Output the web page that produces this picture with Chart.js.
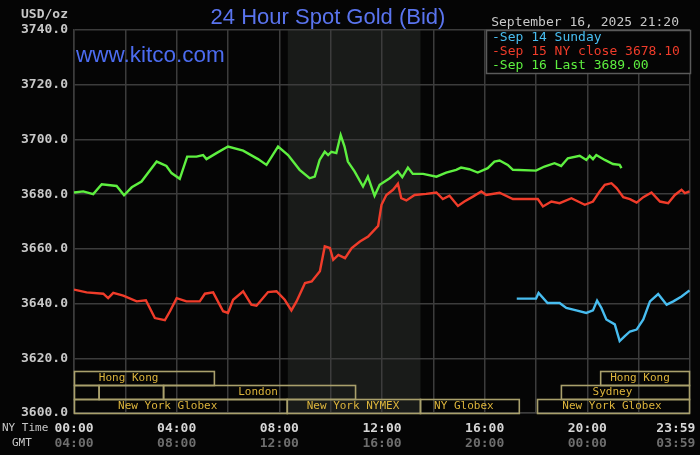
<!DOCTYPE html>
<html lang="en">
<head>
<meta charset="UTF-8" />
<title>24 Hour Spot Gold (Bid)</title>
<script src="https://cdn.jsdelivr.net/npm/chart.js"></script>
<style>
  html, body { margin: 0; padding: 0; background: #050505; }
  #wrap { width: 700px; height: 455px; }
</style>
</head>
<body>
<div id="wrap"><canvas id="goldChart"></canvas></div>
<script>
// hours are NY time (0 = midnight), prices in USD/oz
const sep16Hours = [
  0, 0.36, 0.75, 1.08, 1.66, 1.95, 2.25, 2.63, 3.22, 3.6,
  3.8, 4.12, 4.41, 4.77, 5.03, 5.16, 5.55, 6.0, 6.59, 7.17,
  7.5, 7.95, 8.34, 8.79, 9.18, 9.38, 9.57, 9.77, 9.9, 10.03,
  10.22, 10.39, 10.54, 10.67, 10.93, 11.26, 11.45, 11.71, 11.91, 12.3,
  12.62, 12.79, 13.01, 13.2, 13.6, 14.12, 14.5, 14.89, 15.08, 15.4,
  15.73, 16.12, 16.38, 16.58, 16.9, 17.1, 18.0, 18.33, 18.72, 18.98,
  19.24, 19.7, 19.96, 20.09, 20.22, 20.35, 20.68, 21.0, 21.26, 21.33
];
const sep16Prices = [
  3680.6, 3681.0, 3680.0, 3683.6, 3683.0, 3679.6, 3682.5, 3684.6, 3691.9, 3690.3,
  3687.7, 3685.6, 3693.7, 3693.7, 3694.3, 3692.8, 3695.0, 3697.4, 3695.9, 3692.8,
  3690.7, 3697.4, 3694.3, 3688.9, 3685.8, 3686.4, 3692.5, 3695.5, 3694.3, 3695.5,
  3695.0, 3701.6, 3697.4, 3691.9, 3688.3, 3682.8, 3686.4, 3679.4, 3683.4, 3685.8,
  3688.3, 3686.2, 3689.7, 3687.4, 3687.4, 3686.4, 3687.9, 3688.9, 3689.7, 3689.1,
  3687.9, 3689.5, 3691.9, 3692.3, 3690.7, 3688.9, 3688.6, 3690.1, 3691.3, 3690.3,
  3693.1, 3694.0, 3692.5, 3694.0, 3692.8, 3694.3, 3692.5, 3691.0, 3690.7, 3689.5
];

const sep15Hours = [
  0, 0.49, 1.14, 1.33, 1.53, 1.92, 2.44, 2.8, 3.15, 3.54,
  3.74, 4.0, 4.38, 4.9, 5.1, 5.42, 5.81, 6.0, 6.2, 6.59,
  6.91, 7.11, 7.56, 7.89, 8.21, 8.47, 8.67, 9.0, 9.26, 9.58,
  9.77, 9.97, 10.1, 10.3, 10.56, 10.82, 11.14, 11.46, 11.85, 11.98,
  12.17, 12.43, 12.62, 12.75, 12.95, 13.27, 13.72, 14.12, 14.37, 14.63,
  14.96, 15.21, 15.54, 15.87, 16.06, 16.58, 17.1, 18.07, 18.27, 18.6,
  18.92, 19.38, 19.9, 20.22, 20.48, 20.68, 20.94, 21.14, 21.4, 21.66,
  21.92, 22.18, 22.5, 22.83, 23.15, 23.41, 23.67, 23.8, 23.98
];
const sep15Prices = [
  3645.1, 3644.1, 3643.6, 3642.0, 3643.9, 3642.9, 3640.8, 3641.2, 3634.7, 3633.9,
  3637.2, 3642.0, 3640.8, 3640.8, 3643.6, 3644.1, 3637.2, 3636.6, 3641.4, 3644.5,
  3639.6, 3639.2, 3644.2, 3644.5, 3641.4, 3637.5, 3640.8, 3647.5, 3648.1, 3651.8,
  3660.9, 3660.3, 3656.0, 3657.8, 3656.6, 3660.3, 3662.7, 3664.5, 3668.4, 3676.1,
  3679.7, 3681.6, 3683.8, 3678.5, 3677.7, 3679.7, 3680.1, 3680.6, 3678.2, 3679.4,
  3675.7, 3677.3, 3679.1, 3681.0, 3679.7, 3680.5, 3678.2, 3678.2, 3675.5, 3677.3,
  3676.7, 3678.5, 3676.1, 3677.3, 3681.0, 3683.4, 3684.0, 3682.2, 3678.9, 3678.2,
  3676.9, 3678.9, 3680.6, 3677.3, 3676.7, 3679.7, 3681.6, 3680.4, 3681.0
];

const sep14Hours = [
  17.25, 18.0, 18.1, 18.45, 18.92, 19.18, 19.57, 19.96, 20.22, 20.38,
  20.55, 20.74, 21.07, 21.26, 21.46, 21.66, 21.92, 22.18, 22.44, 22.76,
  23.09, 23.35, 23.67, 23.98
];
const sep14Prices = [
  3641.8, 3641.8, 3643.9, 3640.2, 3640.2, 3638.4, 3637.5, 3636.6, 3637.5, 3641.1,
  3638.4, 3634.2, 3632.4, 3626.3, 3628.1, 3629.8, 3630.5, 3634.2, 3640.8, 3643.5,
  3639.6, 3640.8, 3642.6, 3644.8
];

const legendLabels = ['-Sep 14 Sunday', '-Sep 15 NY close 3678.10', '-Sep 16 Last 3689.00'];
const seriesColors = ['#48bdf0', '#f03c2a', '#5ef040'];

const yTicks = [3600, 3620, 3640, 3660, 3680, 3700, 3720, 3740];
const gridHours = [0, 2, 4, 6, 8, 10, 12, 14, 16, 18, 20, 22, 24];
const timeTickHours = [0, 4, 8, 12, 16, 20, 23.45];
const nyTickLabels = ['00:00', '04:00', '08:00', '12:00', '16:00', '20:00', '23:59'];
const gmtTickLabels = ['04:00', '08:00', '12:00', '16:00', '20:00', '00:00', '03:59'];

// trading sessions drawn as boxes along the bottom (row 0 = top row)
const sessionNames = ['Hong Kong', 'Hong Kong', '', '', 'London', 'Sydney',
  'New York Globex', 'New York NYMEX', 'NY Globex', 'New York Globex'];
const sessionStart = [0, 20.5, 0, 0.96, 3.47, 18.97, 0, 8.29, 13.48, 18.04];
const sessionEnd = [5.45, 24, 0.96, 3.47, 10.95, 24, 8.29, 13.48, 17.33, 24];
const sessionRow = [0, 0, 1, 1, 1, 1, 2, 2, 2, 2];
const sessionLabelAt = [2.13, 22.05, null, null, 7.17, 20.98, 3.65, 10.87, 15.19, 20.96];
const nymexHours = [8.33, 13.5];

const MONO = '"DejaVu Sans Mono", "Liberation Mono", monospace';
const SANS = '"Liberation Sans", Arial, sans-serif';
const GRID = '#3c3c3c';

const kitcoDecor = {
  id: 'kitcoDecor',
  beforeDraw(chart) {
    const { ctx, chartArea: a, scales: { x } } = chart;
    ctx.save();
    ctx.fillStyle = '#050505';
    ctx.fillRect(0, 0, chart.width, chart.height);
    const x0 = x.getPixelForValue(nymexHours[0]);
    const x1 = x.getPixelForValue(nymexHours[1]);
    ctx.fillStyle = '#191b19';
    ctx.fillRect(x0, a.top, x1 - x0, a.bottom - a.top);
    ctx.restore();
  },
  afterDatasetsDraw(chart) {
    const { ctx, chartArea: a, scales: { x } } = chart;
    const rowH = 14;
    ctx.save();
    ctx.lineWidth = 1.6;
    ctx.strokeStyle = '#a9a06c';
    ctx.fillStyle = '#dcb43c';
    ctx.font = '11px ' + MONO;
    ctx.textAlign = 'center';
    ctx.textBaseline = 'middle';
    sessionNames.forEach((name, i) => {
      const top = a.bottom - (3 - sessionRow[i]) * rowH;
      const l = x.getPixelForValue(sessionStart[i]);
      const r = Math.min(x.getPixelForValue(sessionEnd[i]), a.right - 1);
      ctx.strokeRect(l + 0.5, top + 0.5, r - l, rowH);
      if (name) ctx.fillText(name, x.getPixelForValue(sessionLabelAt[i]), top + rowH / 2 + 0.5);
    });
    ctx.restore();
  },
  afterDraw(chart) {
    const { ctx, chartArea: a } = chart;
    ctx.save();
    // titles
    ctx.textBaseline = 'alphabetic';
    ctx.textAlign = 'center';
    ctx.fillStyle = '#5a74ee';
    ctx.font = '22px ' + SANS;
    ctx.fillText('24 Hour Spot Gold (Bid)', 328, 24);
    ctx.textAlign = 'left';
    ctx.fillStyle = '#4c6cf0';
    ctx.font = '22.5px ' + SANS;
    ctx.fillText('www.kitco.com', 76, 62);

    ctx.fillStyle = '#c8c8c8';
    ctx.font = 'bold 13px ' + MONO;
    ctx.textAlign = 'right';
    ctx.fillText('USD/oz', 68, 18);
    ctx.font = '13px ' + MONO;
    ctx.fillText('September 16, 2025 21:20', 679, 26);

    ctx.textAlign = 'left';
    ctx.font = '11px ' + MONO;
    ctx.fillText('NY Time', 2, 431);
    ctx.fillText('GMT', 12, 446);

    // legend box
    const lx = 486, ly = a.top, lw = a.right - lx, lh = 43;
    ctx.fillStyle = '#050505';
    ctx.fillRect(lx, ly, lw, lh);
    ctx.strokeStyle = '#5a5a5a';
    ctx.lineWidth = 1.5;
    ctx.strokeRect(lx + 0.5, ly + 0.5, lw, lh);
    ctx.font = '13px ' + MONO;
    ctx.textBaseline = 'middle';
    legendLabels.forEach((t, i) => {
      ctx.fillStyle = seriesColors[i];
      ctx.fillText(t, lx + 6, ly + 8 + i * 13.8);
    });
    ctx.restore();
  }
};

function series(label, hours, prices, color) {
  return {
    label,
    data: hours.map((h, i) => ({ x: h, y: prices[i] })),
    borderColor: color,
    borderWidth: 2.4,
    pointRadius: 0,
    tension: 0,
    fill: false
  };
}

function timeAxis(labels, color, weight, padding, height) {
  return {
    type: 'linear',
    position: 'bottom',
    min: 0,
    max: 24,
    weight,
    grid: { display: false, drawTicks: false },
    border: { display: false },
    afterBuildTicks: s => { s.ticks = timeTickHours.map(v => ({ value: v })); },
    afterFit: s => { s.height = height; s.paddingLeft = 0; s.paddingRight = 0; },
    ticks: {
      autoSkip: false,
      maxRotation: 0,
      padding,
      color,
      font: { family: MONO, size: 13, weight: 'bold' },
      callback: (v, i) => labels[i]
    }
  };
}

new Chart(document.getElementById('goldChart'), {
  type: 'line',
  data: {
    datasets: [
      series(legendLabels[0], sep14Hours, sep14Prices, seriesColors[0]),
      series(legendLabels[1], sep15Hours, sep15Prices, seriesColors[1]),
      series(legendLabels[2], sep16Hours, sep16Prices, seriesColors[2])
    ]
  },
  options: {
    responsive: true,
    maintainAspectRatio: false,
    animation: false,
    layout: { padding: { top: 30, right: 10, left: 0, bottom: 0 } },
    plugins: { legend: { display: false }, tooltip: { enabled: false } },
    scales: {
      x: {
        type: 'linear',
        position: 'bottom',
        min: 0,
        max: 24,
        weight: 0,
        grid: { color: GRID, lineWidth: 1.5, drawTicks: false },
        border: { color: GRID, width: 1.5 },
        afterBuildTicks: s => { s.ticks = gridHours.map(v => ({ value: v })); },
        afterFit: s => { s.height = 0; s.paddingLeft = 0; s.paddingRight = 0; },
        ticks: { display: false }
      },
      xNY: timeAxis(nyTickLabels, '#d6d6d6', 1, 8, 22),
      xGMT: timeAxis(gmtTickLabels, '#6e6e6e', 2, 1, 20),
      y: {
        min: 3600,
        max: 3740,
        grid: { color: GRID, lineWidth: 1.5, drawTicks: false },
        border: { color: GRID, width: 1.5 },
        afterBuildTicks: s => { s.ticks = yTicks.map(v => ({ value: v })); },
        afterFit: s => { s.width = 74; },
        ticks: {
          padding: 6,
          color: '#c8c8c8',
          font: { family: MONO, size: 13, weight: 'bold' },
          callback: v => v.toFixed(1)
        }
      }
    }
  },
  plugins: [kitcoDecor]
});
</script>
</body>
</html>
